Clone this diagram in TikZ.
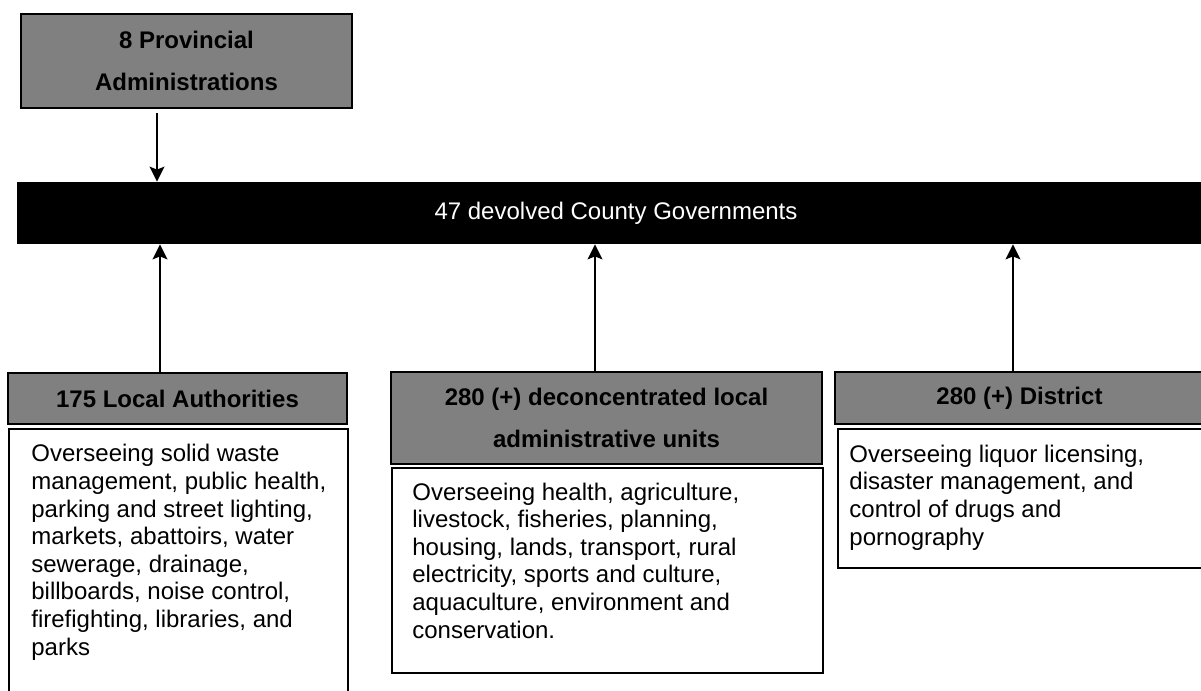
\documentclass[tikz,border=0pt]{standalone}
\usepackage{fontspec}
\setmainfont{Liberation Sans}
\usetikzlibrary{arrows.meta}

\begin{document}
\begin{tikzpicture}[x=0.5pt,y=-0.5pt,
	hdr/.style={draw=black, fill=gray, line width=0.75pt, inner sep=0pt, align=center, font=\fontsize{12}{20.7}\selectfont\bfseries},
	bodybox/.style={draw=black, line width=0.75pt, inner sep=0pt, anchor=north west},
	bodytxt/.style={inner sep=0pt, anchor=base west, align=left, font=\fontsize{12}{13.8}\selectfont},
	arr/.style={-{Stealth[length=7.5pt,width=7.5pt,inset=1.5pt]}, line width=0.7pt}]
	\useasboundingbox (0,0) rectangle (1201,691);
	\node[hdr, minimum width=165.5pt, minimum height=47pt] (prov) at (186.5,61) {8 Provincial\\Administrations};
	\node[fill=black, text=white, inner sep=0pt, minimum width=599pt, minimum height=31pt, font=\fontsize{12}{13.8}\selectfont] (county) at (616,213) {47 devolved County Governments};
	\node[hdr, minimum width=169.5pt, minimum height=25.5pt] (lahead) at (177.5,398.5) {175 Local Authorities};
	\node[hdr, minimum width=215.5pt, minimum height=46pt] (deconhead) at (606.5,418) {280 (+) deconcentrated local\\administrative units};
	\node[hdr, minimum width=184.5pt, minimum height=26pt] (disthead) at (1019.5,398) {280 (+) District};
	\node[bodybox, minimum width=169.5pt, minimum height=150pt] (labody) at (8,428) {};
	\node[bodybox, minimum width=215.5pt, minimum height=102.5pt] (deconbody) at (391,467) {};
	\node[bodybox, minimum width=183.5pt, minimum height=69.5pt] (distbody) at (837,428) {};
	\node[bodytxt] (latxt) at (31,655) {Overseeing solid waste\\management, public health,\\parking and street lighting,\\markets, abattoirs, water\\sewerage, drainage,\\billboards, noise control,\\firefighting, libraries, and\\parks};
	\node[bodytxt] (decontxt) at (412,638) {Overseeing health, agriculture,\\livestock, fisheries, planning,\\housing, lands, transport, rural\\electricity, sports and culture,\\aquaculture, environment and\\conservation.};
	\node[bodytxt] (disttxt) at (849,545) {Overseeing liquor licensing,\\disaster management, and\\control of drugs and\\pornography};
	\coordinate (pa) at (157,0);
	\coordinate (la) at (160,0);
	\coordinate (da) at (595,0);
	\coordinate (ta) at (1013,0);
	\draw[arr, shorten <=2pt] (prov.south -| pa) -- (county.north -| pa);
	\draw[arr] (lahead.north -| la) -- (county.south -| la);
	\draw[arr] (deconhead.north -| da) -- (county.south -| da);
	\draw[arr] (disthead.north -| ta) -- (county.south -| ta);
\end{tikzpicture}
\end{document}
